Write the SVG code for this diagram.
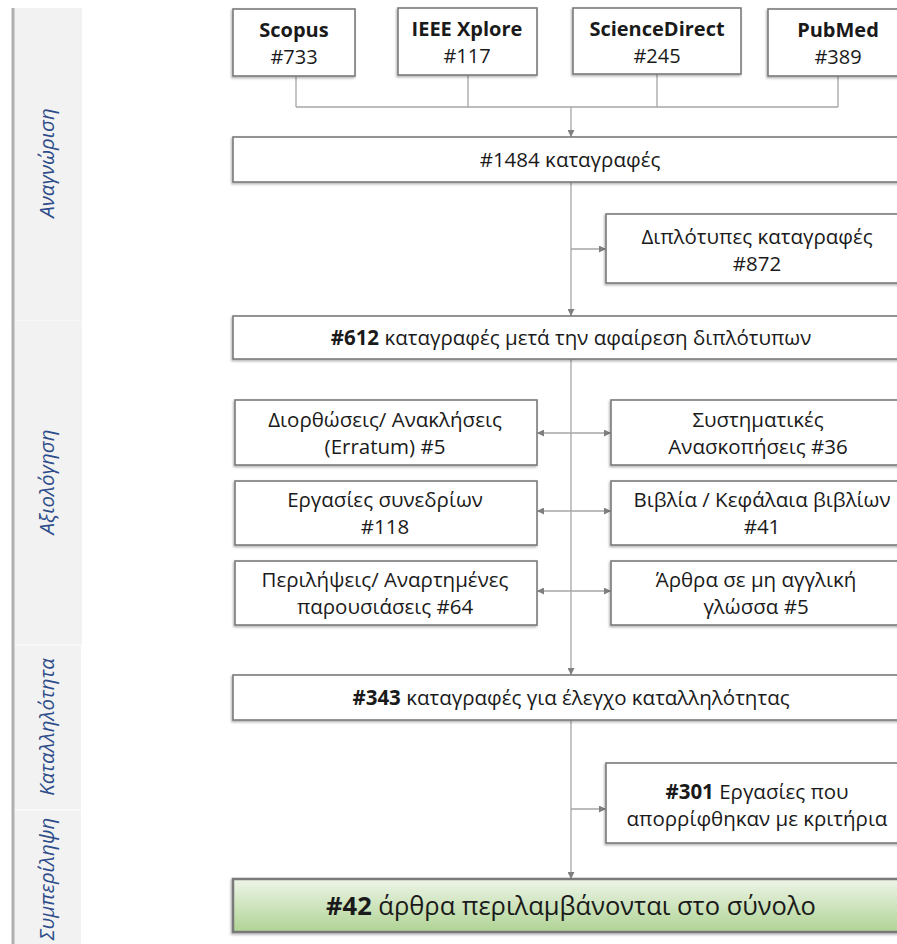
<svg xmlns="http://www.w3.org/2000/svg" width="897" height="944" viewBox="0 0 897 944">
<style>
  text { font-family: "Open Sans", "Noto Sans", sans-serif; fill: #1a1a1a; }
  .box { fill: #ffffff; stroke: #7a7a7a; stroke-width: 1.6; filter: url(#sh); }
  .t { font-size: 20.5px; text-anchor: middle; }
  .src { font-size: 20px; text-anchor: middle; }
  .b { font-weight: bold; }
  .side { font-size: 20.5px; font-style: italic; fill: #2e4d8a; text-anchor: middle; }
  .sb { fill: #f2f2f2; }
  .ln { stroke: #a6a6a6; stroke-width: 1.3; fill: none; }
  .ar { stroke: #a6a6a6; stroke-width: 1.3; fill: none; marker-end: url(#ah); }
  .dar { stroke: #a6a6a6; stroke-width: 1.3; fill: none; marker-end: url(#ah); marker-start: url(#ahs); }
</style>
<defs>
  <filter id="sh" x="-5%" y="-20%" width="110%" height="150%">
    <feDropShadow dx="-1" dy="1.5" stdDeviation="1" flood-color="#000" flood-opacity="0.3"/>
  </filter>
  <marker id="ah" viewBox="0 0 10 10" refX="10" refY="5" markerWidth="7" markerHeight="7" markerUnits="userSpaceOnUse" orient="auto">
    <path d="M0,0 L10,5 L0,10 Z" fill="#7f7f7f"/>
  </marker>
  <marker id="ahs" viewBox="0 0 10 10" refX="0" refY="5" markerWidth="7" markerHeight="7" markerUnits="userSpaceOnUse" orient="auto">
    <path d="M10,0 L0,5 L10,10 Z" fill="#7f7f7f"/>
  </marker>
  <linearGradient id="green" x1="0" y1="0" x2="0" y2="1">
    <stop offset="0" stop-color="#eef5e8"/>
    <stop offset="1" stop-color="#afd394"/>
  </linearGradient>
</defs>

<g id="sidebar">
  <rect class="sb" x="14" y="8" width="68" height="312"/>
  <rect class="sb" x="14" y="320.5" width="68" height="324"/>
  <rect class="sb" x="14" y="645.5" width="67" height="164"/>
  <rect class="sb" x="14" y="810.5" width="67" height="134"/>
  <line x1="13" y1="8" x2="13" y2="944" stroke="#b0b0b0" stroke-width="3"/>
  <text class="side" transform="translate(54,163) rotate(-90)">Αναγνώριση</text>
  <text class="side" transform="translate(54,482) rotate(-90)">Αξιολόγηση</text>
  <text class="side" transform="translate(54,727) rotate(-90)">Καταλληλότητα</text>
  <text class="side" transform="translate(54,879) rotate(-90)">Συμπερίληψη</text>
</g>

<g id="connectors">
  <path class="ln" d="M296,76 V107 M468,75 V107 M657,74 V107 M838,76 V107 M296,107 H838"/>
  <path class="ar" d="M571,107 V137"/>
  <path class="ar" d="M571,182 V316"/>
  <path class="ar" d="M571,249 H606"/>
  <path class="ar" d="M571,359 V675"/>
  <path class="dar" d="M537,433 H611"/>
  <path class="dar" d="M537,511 H611"/>
  <path class="dar" d="M537,591 H611"/>
  <path class="ar" d="M571,720 V879"/>
  <path class="ar" d="M571,809 H606"/>
</g>

<g id="scopus">
  <rect class="box" x="233" y="9" width="122" height="67"/>
  <text class="src b" x="294" y="37">Scopus</text>
  <text class="src" x="294" y="64">#733</text>
</g>
<g id="ieee">
  <rect class="box" x="398" y="8" width="139" height="67"/>
  <text class="src b" x="467" y="36">IEEE Xplore</text>
  <text class="src" x="467" y="63">#117</text>
</g>
<g id="sciencedirect">
  <rect class="box" x="573" y="8" width="168" height="66"/>
  <text class="src b" x="657" y="36">ScienceDirect</text>
  <text class="src" x="657" y="63">#245</text>
</g>
<g id="pubmed">
  <rect class="box" x="768" y="9" width="140" height="67"/>
  <text class="src b" x="838" y="37">PubMed</text>
  <text class="src" x="838" y="64">#389</text>
</g>

<g id="n1484">
  <rect class="box" x="233" y="137" width="676" height="45"/>
  <text class="t" x="570" y="167">#1484 καταγραφές</text>
</g>
<g id="duplicates">
  <rect class="box" x="606" y="214" width="303" height="69"/>
  <text class="t" x="757" y="244">Διπλότυπες καταγραφές</text>
  <text class="t" x="757" y="271">#872</text>
</g>
<g id="n612">
  <rect class="box" x="233" y="316" width="676" height="43"/>
  <text class="t" x="571" y="345"><tspan class="b">#612</tspan> καταγραφές μετά την αφαίρεση διπλότυπων</text>
</g>

<g id="errata">
  <rect class="box" x="235" y="400" width="302" height="65"/>
  <text class="t" x="385" y="427">Διορθώσεις/ Ανακλήσεις</text>
  <text class="t" x="385" y="454">(Erratum) #5</text>
</g>
<g id="reviews">
  <rect class="box" x="611" y="400" width="298" height="65"/>
  <text class="t" x="758" y="427">Συστηματικές</text>
  <text class="t" x="758" y="454">Ανασκοπήσεις #36</text>
</g>
<g id="conferences">
  <rect class="box" x="235" y="481" width="302" height="64"/>
  <text class="t" x="385" y="507">Εργασίες συνεδρίων</text>
  <text class="t" x="385" y="534">#118</text>
</g>
<g id="books">
  <rect class="box" x="611" y="481" width="298" height="64"/>
  <text class="t" x="762" y="507">Βιβλία / Κεφάλαια βιβλίων</text>
  <text class="t" x="762" y="534">#41</text>
</g>
<g id="abstracts">
  <rect class="box" x="235" y="561" width="302" height="64"/>
  <text class="t" x="385" y="587">Περιλήψεις/ Αναρτημένες</text>
  <text class="t" x="385" y="614">παρουσιάσεις #64</text>
</g>
<g id="nonenglish">
  <rect class="box" x="611" y="561" width="298" height="64"/>
  <text class="t" x="756" y="587">Άρθρα σε μη αγγλική</text>
  <text class="t" x="756" y="614">γλώσσα #5</text>
</g>

<g id="n343">
  <rect class="box" x="233" y="675" width="676" height="45"/>
  <text class="t" x="571" y="705"><tspan class="b">#343</tspan> καταγραφές για έλεγχο καταλληλότητας</text>
</g>
<g id="rejected">
  <rect class="box" x="606" y="763" width="303" height="80"/>
  <text class="t" x="757" y="799"><tspan class="b">#301</tspan> Εργασίες που</text>
  <text class="t" x="757" y="826">απορρίφθηκαν με κριτήρια</text>
</g>
<g id="included">
  <rect x="233" y="879" width="676" height="53" fill="url(#green)" stroke="#7a7a7a" stroke-width="2.5" filter="url(#sh)"/>
  <text class="t" x="571" y="915" style="font-size:25.5px"><tspan class="b">#42</tspan> άρθρα περιλαμβάνονται στο σύνολο</text>
</g>
</svg>
